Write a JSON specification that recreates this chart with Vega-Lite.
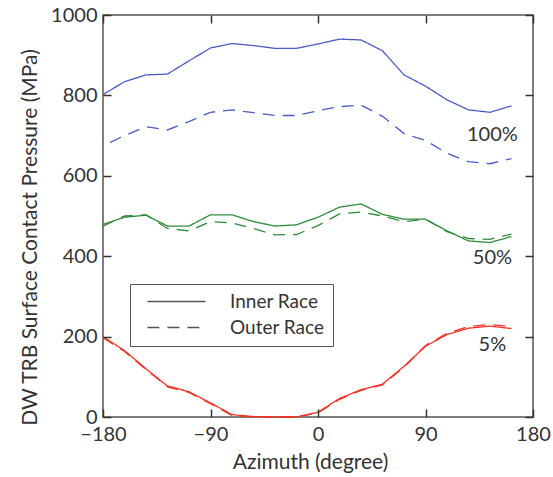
{
  "$schema": "https://vega.github.io/schema/vega-lite/v6.json",
  "width": 430,
  "height": 402,
  "autosize": "none",
  "padding": {"left": 103, "top": 15, "right": 20, "bottom": 60},
  "background": "white",
  "config": {
    "font": "Lato",
    "view": {"stroke": "#555", "strokeWidth": 1.5},
    "axis": {
      "domain": false,
      "grid": false,
      "ticks": true,
      "tickColor": "#333",
      "tickWidth": 1.5,
      "tickSize": -8,
      "labelFont": "Lato",
      "labelFontSize": 20,
      "labelColor": "#333",
      "titleFont": "Lato",
      "titleFontSize": 21,
      "titleFontWeight": "normal",
      "titleColor": "#333"
    }
  },
  "datasets": {
    "curves": [
      {"azimuth": -180, "pressure": 802, "load": "100%", "race": "Inner Race"},
      {"azimuth": -162, "pressure": 834, "load": "100%", "race": "Inner Race"},
      {"azimuth": -144, "pressure": 851, "load": "100%", "race": "Inner Race"},
      {"azimuth": -126, "pressure": 853, "load": "100%", "race": "Inner Race"},
      {"azimuth": -108, "pressure": 886, "load": "100%", "race": "Inner Race"},
      {"azimuth": -90, "pressure": 918, "load": "100%", "race": "Inner Race"},
      {"azimuth": -72, "pressure": 929, "load": "100%", "race": "Inner Race"},
      {"azimuth": -54, "pressure": 924, "load": "100%", "race": "Inner Race"},
      {"azimuth": -36, "pressure": 917, "load": "100%", "race": "Inner Race"},
      {"azimuth": -18, "pressure": 917, "load": "100%", "race": "Inner Race"},
      {"azimuth": 0, "pressure": 928, "load": "100%", "race": "Inner Race"},
      {"azimuth": 18, "pressure": 940, "load": "100%", "race": "Inner Race"},
      {"azimuth": 36, "pressure": 938, "load": "100%", "race": "Inner Race"},
      {"azimuth": 54, "pressure": 911, "load": "100%", "race": "Inner Race"},
      {"azimuth": 72, "pressure": 851, "load": "100%", "race": "Inner Race"},
      {"azimuth": 90, "pressure": 823, "load": "100%", "race": "Inner Race"},
      {"azimuth": 108, "pressure": 789, "load": "100%", "race": "Inner Race"},
      {"azimuth": 126, "pressure": 764, "load": "100%", "race": "Inner Race"},
      {"azimuth": 144, "pressure": 758, "load": "100%", "race": "Inner Race"},
      {"azimuth": 162, "pressure": 774, "load": "100%", "race": "Inner Race"},
      {"azimuth": -174, "pressure": 683, "load": "100%", "race": "Outer Race"},
      {"azimuth": -162, "pressure": 700, "load": "100%", "race": "Outer Race"},
      {"azimuth": -144, "pressure": 722, "load": "100%", "race": "Outer Race"},
      {"azimuth": -126, "pressure": 714, "load": "100%", "race": "Outer Race"},
      {"azimuth": -108, "pressure": 735, "load": "100%", "race": "Outer Race"},
      {"azimuth": -90, "pressure": 758, "load": "100%", "race": "Outer Race"},
      {"azimuth": -72, "pressure": 764, "load": "100%", "race": "Outer Race"},
      {"azimuth": -54, "pressure": 757, "load": "100%", "race": "Outer Race"},
      {"azimuth": -36, "pressure": 750, "load": "100%", "race": "Outer Race"},
      {"azimuth": -18, "pressure": 750, "load": "100%", "race": "Outer Race"},
      {"azimuth": 0, "pressure": 762, "load": "100%", "race": "Outer Race"},
      {"azimuth": 18, "pressure": 772, "load": "100%", "race": "Outer Race"},
      {"azimuth": 36, "pressure": 776, "load": "100%", "race": "Outer Race"},
      {"azimuth": 54, "pressure": 748, "load": "100%", "race": "Outer Race"},
      {"azimuth": 72, "pressure": 705, "load": "100%", "race": "Outer Race"},
      {"azimuth": 90, "pressure": 688, "load": "100%", "race": "Outer Race"},
      {"azimuth": 108, "pressure": 656, "load": "100%", "race": "Outer Race"},
      {"azimuth": 126, "pressure": 635, "load": "100%", "race": "Outer Race"},
      {"azimuth": 144, "pressure": 630, "load": "100%", "race": "Outer Race"},
      {"azimuth": 162, "pressure": 643, "load": "100%", "race": "Outer Race"},
      {"azimuth": -180, "pressure": 479, "load": "50%", "race": "Inner Race"},
      {"azimuth": -162, "pressure": 497, "load": "50%", "race": "Inner Race"},
      {"azimuth": -144, "pressure": 502, "load": "50%", "race": "Inner Race"},
      {"azimuth": -126, "pressure": 475, "load": "50%", "race": "Inner Race"},
      {"azimuth": -108, "pressure": 475, "load": "50%", "race": "Inner Race"},
      {"azimuth": -90, "pressure": 503, "load": "50%", "race": "Inner Race"},
      {"azimuth": -72, "pressure": 503, "load": "50%", "race": "Inner Race"},
      {"azimuth": -54, "pressure": 486, "load": "50%", "race": "Inner Race"},
      {"azimuth": -36, "pressure": 475, "load": "50%", "race": "Inner Race"},
      {"azimuth": -18, "pressure": 478, "load": "50%", "race": "Inner Race"},
      {"azimuth": 0, "pressure": 497, "load": "50%", "race": "Inner Race"},
      {"azimuth": 18, "pressure": 522, "load": "50%", "race": "Inner Race"},
      {"azimuth": 36, "pressure": 530, "load": "50%", "race": "Inner Race"},
      {"azimuth": 54, "pressure": 504, "load": "50%", "race": "Inner Race"},
      {"azimuth": 72, "pressure": 492, "load": "50%", "race": "Inner Race"},
      {"azimuth": 90, "pressure": 492, "load": "50%", "race": "Inner Race"},
      {"azimuth": 108, "pressure": 463, "load": "50%", "race": "Inner Race"},
      {"azimuth": 126, "pressure": 438, "load": "50%", "race": "Inner Race"},
      {"azimuth": 144, "pressure": 434, "load": "50%", "race": "Inner Race"},
      {"azimuth": 162, "pressure": 449, "load": "50%", "race": "Inner Race"},
      {"azimuth": -180, "pressure": 475, "load": "50%", "race": "Outer Race"},
      {"azimuth": -162, "pressure": 500, "load": "50%", "race": "Outer Race"},
      {"azimuth": -144, "pressure": 503, "load": "50%", "race": "Outer Race"},
      {"azimuth": -126, "pressure": 469, "load": "50%", "race": "Outer Race"},
      {"azimuth": -108, "pressure": 463, "load": "50%", "race": "Outer Race"},
      {"azimuth": -90, "pressure": 486, "load": "50%", "race": "Outer Race"},
      {"azimuth": -72, "pressure": 483, "load": "50%", "race": "Outer Race"},
      {"azimuth": -54, "pressure": 469, "load": "50%", "race": "Outer Race"},
      {"azimuth": -36, "pressure": 453, "load": "50%", "race": "Outer Race"},
      {"azimuth": -18, "pressure": 454, "load": "50%", "race": "Outer Race"},
      {"azimuth": 0, "pressure": 476, "load": "50%", "race": "Outer Race"},
      {"azimuth": 18, "pressure": 505, "load": "50%", "race": "Outer Race"},
      {"azimuth": 36, "pressure": 510, "load": "50%", "race": "Outer Race"},
      {"azimuth": 54, "pressure": 500, "load": "50%", "race": "Outer Race"},
      {"azimuth": 72, "pressure": 486, "load": "50%", "race": "Outer Race"},
      {"azimuth": 90, "pressure": 492, "load": "50%", "race": "Outer Race"},
      {"azimuth": 108, "pressure": 461, "load": "50%", "race": "Outer Race"},
      {"azimuth": 126, "pressure": 444, "load": "50%", "race": "Outer Race"},
      {"azimuth": 144, "pressure": 442, "load": "50%", "race": "Outer Race"},
      {"azimuth": 162, "pressure": 455, "load": "50%", "race": "Outer Race"},
      {"azimuth": -180, "pressure": 200, "load": "5%", "race": "Inner Race"},
      {"azimuth": -162, "pressure": 165, "load": "5%", "race": "Inner Race"},
      {"azimuth": -144, "pressure": 120, "load": "5%", "race": "Inner Race"},
      {"azimuth": -126, "pressure": 77, "load": "5%", "race": "Inner Race"},
      {"azimuth": -108, "pressure": 63, "load": "5%", "race": "Inner Race"},
      {"azimuth": -90, "pressure": 35, "load": "5%", "race": "Inner Race"},
      {"azimuth": -72, "pressure": 6, "load": "5%", "race": "Inner Race"},
      {"azimuth": -54, "pressure": 1, "load": "5%", "race": "Inner Race"},
      {"azimuth": -36, "pressure": 0, "load": "5%", "race": "Inner Race"},
      {"azimuth": -18, "pressure": 0, "load": "5%", "race": "Inner Race"},
      {"azimuth": 0, "pressure": 12, "load": "5%", "race": "Inner Race"},
      {"azimuth": 18, "pressure": 46, "load": "5%", "race": "Inner Race"},
      {"azimuth": 36, "pressure": 68, "load": "5%", "race": "Inner Race"},
      {"azimuth": 54, "pressure": 82, "load": "5%", "race": "Inner Race"},
      {"azimuth": 72, "pressure": 126, "load": "5%", "race": "Inner Race"},
      {"azimuth": 90, "pressure": 176, "load": "5%", "race": "Inner Race"},
      {"azimuth": 108, "pressure": 205, "load": "5%", "race": "Inner Race"},
      {"azimuth": 126, "pressure": 221, "load": "5%", "race": "Inner Race"},
      {"azimuth": 144, "pressure": 226, "load": "5%", "race": "Inner Race"},
      {"azimuth": 162, "pressure": 220, "load": "5%", "race": "Inner Race"},
      {"azimuth": -180, "pressure": 197, "load": "5%", "race": "Outer Race"},
      {"azimuth": -162, "pressure": 163, "load": "5%", "race": "Outer Race"},
      {"azimuth": -144, "pressure": 118, "load": "5%", "race": "Outer Race"},
      {"azimuth": -126, "pressure": 75, "load": "5%", "race": "Outer Race"},
      {"azimuth": -108, "pressure": 61, "load": "5%", "race": "Outer Race"},
      {"azimuth": -90, "pressure": 33, "load": "5%", "race": "Outer Race"},
      {"azimuth": -72, "pressure": 4, "load": "5%", "race": "Outer Race"},
      {"azimuth": -54, "pressure": 0, "load": "5%", "race": "Outer Race"},
      {"azimuth": -36, "pressure": 0, "load": "5%", "race": "Outer Race"},
      {"azimuth": -18, "pressure": 0, "load": "5%", "race": "Outer Race"},
      {"azimuth": 0, "pressure": 10, "load": "5%", "race": "Outer Race"},
      {"azimuth": 18, "pressure": 44, "load": "5%", "race": "Outer Race"},
      {"azimuth": 36, "pressure": 66, "load": "5%", "race": "Outer Race"},
      {"azimuth": 54, "pressure": 80, "load": "5%", "race": "Outer Race"},
      {"azimuth": 72, "pressure": 124, "load": "5%", "race": "Outer Race"},
      {"azimuth": 90, "pressure": 178, "load": "5%", "race": "Outer Race"},
      {"azimuth": 108, "pressure": 208, "load": "5%", "race": "Outer Race"},
      {"azimuth": 126, "pressure": 225, "load": "5%", "race": "Outer Race"},
      {"azimuth": 144, "pressure": 230, "load": "5%", "race": "Outer Race"},
      {"azimuth": 162, "pressure": 225, "load": "5%", "race": "Outer Race"}
    ],
    "labels": [
      {"azimuth": 146, "pressure": 701, "text": "100%"},
      {"azimuth": 146, "pressure": 395, "text": "50%"},
      {"azimuth": 146, "pressure": 179, "text": "5%"}
    ]
  },
  "layer": [
    {
      "data": {"name": "curves"},
      "mark": {"type": "line", "strokeWidth": 1.3},
      "encoding": {
        "x": {
          "field": "azimuth", "type": "quantitative",
          "scale": {"domain": [-180, 180], "nice": false},
          "axis": {"values": [-180, -90, 0, 90, 180], "title": "Azimuth (degree)", "labelPadding": 15, "titlePadding": 7, "titleX": 207, "labelFlush": false, "zindex": 1, "labelExpr": "replace(datum.label, '-', '−')"}
        },
        "y": {
          "field": "pressure", "type": "quantitative",
          "scale": {"domain": [0, 1000], "nice": false},
          "axis": {"values": [0, 200, 400, 600, 800, 1000], "format": "d", "title": "DW TRB Surface Contact Pressure (MPa)", "labelPadding": 14, "titlePadding": 10, "titleY": 222, "labelFlush": false, "zindex": 1}
        },
        "color": {
          "field": "load", "type": "nominal",
          "scale": {"domain": ["100%", "50%", "5%"], "range": ["#4a5cc4", "#2e8b3a", "#ee3324"]},
          "legend": null
        },
        "strokeDash": {
          "field": "race", "type": "nominal",
          "scale": {"domain": ["Inner Race", "Outer Race"], "range": [[1, 0], [12, 8]]},
          "legend": {
            "title": null,
            "orient": "none",
            "legendX": 27,
            "legendY": 269,
            "symbolType": "M-5,0H5",
            "symbolSize": 135,
            "symbolOffset": 29,
            "symbolStrokeColor": "#555",
            "symbolStrokeWidth": 1.3,
            "labelFont": "Lato",
            "labelFontSize": 19,
            "labelColor": "#333",
            "labelOffset": 44,
            "rowPadding": 6,
            "padding": 8,
            "strokeColor": "#555",
            "fillColor": "white"
          }
        },
        "detail": {"field": "load"}
      }
    },
    {
      "data": {"name": "labels"},
      "mark": {"type": "text", "font": "Lato", "fontSize": 20, "color": "#333", "align": "center", "baseline": "middle"},
      "encoding": {
        "x": {"field": "azimuth", "type": "quantitative", "axis": {"orient": "top", "values": [-180, -90, 0, 90, 180], "labels": false, "title": null, "zindex": 1}},
        "y": {"field": "pressure", "type": "quantitative", "axis": {"orient": "right", "values": [0, 200, 400, 600, 800, 1000], "labels": false, "title": null, "zindex": 1}},
        "text": {"field": "text"}
      }
    }
  ],
  "resolve": {"axis": {"x": "independent", "y": "independent"}}
}
